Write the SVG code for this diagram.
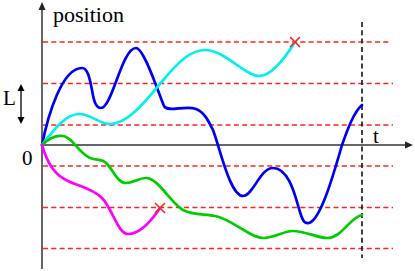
<svg xmlns="http://www.w3.org/2000/svg" width="415" height="271" viewBox="0 0 415 271">
<style>
.txt{font-family:'Liberation Serif','DejaVu Serif','Times New Roman',serif;fill:#000}
.lvl{stroke:#f22;stroke-width:1.5;stroke-dasharray:5 3.3;fill:none}
.ax{stroke:#333;stroke-width:1.5;fill:none}
.cur{fill:none;stroke-width:2.7;stroke-linecap:round;stroke-linejoin:round}
.x{stroke:#f22;stroke-width:1.6;fill:none}
</style>
<rect width="415" height="271" fill="#fff"/>
<g id="levels">
<line class="lvl" x1="43" y1="42" x2="391" y2="42"/>
<line class="lvl" x1="43" y1="83.5" x2="393" y2="83.5"/>
<line class="lvl" x1="43" y1="125" x2="393" y2="125"/>
<line class="lvl" x1="43" y1="166" x2="393" y2="166"/>
<line class="lvl" x1="43" y1="207.5" x2="393" y2="207.5"/>
<line class="lvl" x1="43" y1="248.5" x2="393" y2="248.5"/>
</g>
<g id="time-marker">
<line x1="362" y1="22" x2="362" y2="258" stroke="#222" stroke-width="1.7" stroke-dasharray="5 3.3"/>
</g>
<g id="axes">
<line class="ax" x1="42" y1="269" x2="42" y2="9"/>
<polygon points="42,2 38.5,10 45.5,10" fill="#222"/>
<line class="ax" x1="42" y1="145" x2="406" y2="145"/>
<polygon points="413,145 405,141.5 405,148.5" fill="#222"/>
<text class="txt" x="53" y="22" font-size="22">position</text>
<text class="txt" x="373" y="143" font-size="21">t</text>
<text class="txt" x="22" y="165" font-size="21">0</text>
</g>
<g id="length-scale">
<line x1="21" y1="90" x2="21" y2="118" stroke="#000" stroke-width="1.3"/>
<polygon points="21,84 17.5,91 24.5,91" fill="#000"/>
<polygon points="21,124 17.5,117 24.5,117" fill="#000"/>
<text class="txt" x="3" y="105" font-size="21">L</text>
</g>
<g id="connectors">
<path id="blue" class="cur" stroke="#0000f0" d="M42,145 C48,115 62,68 82,68 C88,68 90,80 92,90 C94,102 96,108 101,108 C112,108 122,48 136,48 C144,48 158,92 164,106 C168,113 185,105 196,109 C204,112 208,120 213,130 C220,148 230,196 243,196 C253,196 260,168 273,168 C290,168 296,200 300,212 C303,222 305,224 309,223 C320,220 332,180 342,145 C348,128 354,112 362,105"/>
<path id="cyan" class="cur" stroke="#00f0f0" d="M42,145 C52,132 65,114 79,114 C92,114 98,124 110,124 C130,124 150,95 165,78 C180,60 192,50 205,50 C225,50 245,76 259,76 C272,76 285,58 295,42"/>
<path id="green" class="cur" stroke="#00cc00" d="M42,145 C50,137 56,135 63,136 C72,137 78,152 90,158 C98,161 102,158 108,165 C114,172 118,183 126,183 C134,183 138,178 146,178 C158,178 170,202 183,210 C192,215 205,214 215,216 C232,219 250,238 263,238 C275,238 283,231 293,231 C305,231 318,238 327,238 C342,238 350,217 362,215"/>
<path id="magenta" class="cur" stroke="#ff00ff" d="M42,145 C48,165 55,175 68,181 C78,186 92,188 102,198 C112,208 118,234 128,234 C140,234 152,220 160,208"/>
</g>
<g id="absorb-1">
<path class="x" d="M290,37 L300,47 M300,37 L290,47"/>
</g>
<g id="absorb-2">
<path class="x" d="M155,203 L165,213 M165,203 L155,213"/>
</g>
</svg>
